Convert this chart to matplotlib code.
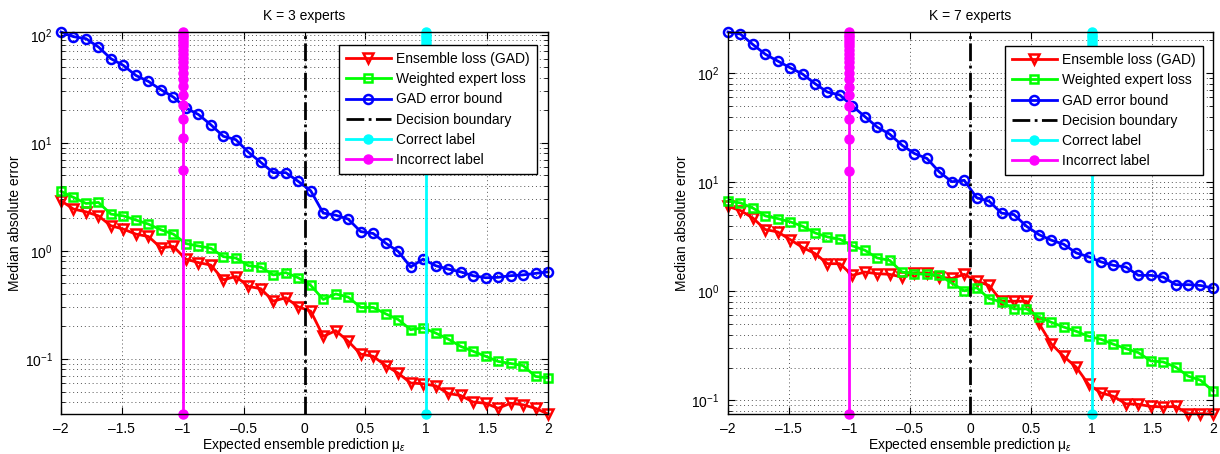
import numpy as np
import matplotlib
matplotlib.use('Agg')
import matplotlib.pyplot as plt
from matplotlib.ticker import LogLocator, NullFormatter, MultipleLocator

plt.rcParams['font.family'] = ['Liberation Sans', 'DejaVu Sans']
plt.rcParams['mathtext.fontset'] = 'custom'
plt.rcParams['mathtext.rm'] = 'Liberation Sans'
plt.rcParams['mathtext.it'] = 'Liberation Sans:italic'
plt.rcParams['font.size'] = 10

# eixo x: 40 pontos entre -2 e 2
mu = np.linspace(-2, 2, 40)

# K = 3 especialistas
ens_k3 = [2.91, 2.44, 2.30, 2.11, 1.71, 1.59, 1.43, 1.36, 1.07, 1.10,
          0.84, 0.78, 0.74, 0.54, 0.58, 0.47, 0.447, 0.343, 0.369, 0.304,
          0.277, 0.162, 0.183, 0.146, 0.111, 0.106, 0.087, 0.074, 0.060, 0.059,
          0.0565, 0.048, 0.046, 0.040, 0.039, 0.035, 0.039, 0.0377, 0.035, 0.031]
wexp_k3 = [3.56, 3.13, 2.75, 2.81, 2.19, 2.11, 1.93, 1.77, 1.57, 1.43,
           1.17, 1.11, 1.06, 0.885, 0.86, 0.73, 0.71, 0.60, 0.63, 0.565,
           0.48, 0.356, 0.40, 0.374, 0.30, 0.30, 0.262, 0.232, 0.187, 0.194,
           0.174, 0.153, 0.131, 0.118, 0.106, 0.095, 0.091, 0.087, 0.069, 0.067]
bound_k3 = [106, 96, 92, 77, 60, 52, 42, 37, 31, 26.5,
            21, 18.3, 14.7, 11.5, 10.7, 8.2, 6.6, 5.3, 5.3, 4.4,
            3.6, 2.24, 2.14, 1.97, 1.51, 1.45, 1.18, 0.99, 0.71, 0.84,
            0.73, 0.68, 0.64, 0.59, 0.565, 0.57, 0.59, 0.60, 0.62, 0.64]
marks_k3 = [0.031, 5.61, 11.19, 16.77, 22.35, 27.92, 33.50, 39.08, 44.66, 50.23,
            55.81, 61.39, 66.96, 72.54, 78.12, 83.70, 89.27, 94.85, 100.43, 106.0]

# K = 7 especialistas
ens_k7 = [6.0, 5.5, 4.7, 3.68, 3.50, 2.98, 2.52, 2.22, 1.79, 1.79,
          1.40, 1.50, 1.45, 1.43, 1.35, 1.47, 1.47, 1.35, 1.31, 1.43,
          1.24, 1.13, 0.81, 0.81, 0.81, 0.51, 0.33, 0.253, 0.202, 0.14,
          0.117, 0.109, 0.093, 0.092, 0.088, 0.087, 0.088, 0.0755, 0.0755, 0.075]
wexp_k7 = [6.7, 6.46, 5.8, 4.91, 4.64, 4.33, 3.95, 3.43, 3.15, 3.0,
           2.61, 2.38, 2.02, 1.92, 1.50, 1.45, 1.43, 1.40, 1.19, 1.01,
           1.08, 0.857, 0.80, 0.69, 0.69, 0.58, 0.52, 0.47, 0.43, 0.386,
           0.363, 0.327, 0.298, 0.274, 0.23, 0.225, 0.202, 0.167, 0.153, 0.122]
bound_k7 = [238, 228, 183, 149, 129, 112, 98, 80, 67, 63,
            50, 40, 32, 27.6, 21.8, 18.3, 16.5, 12.4, 10.1, 10.4,
            7.2, 6.7, 5.2, 5.05, 3.95, 3.31, 2.94, 2.70, 2.25, 2.07,
            1.86, 1.73, 1.67, 1.40, 1.40, 1.35, 1.15, 1.15, 1.13, 1.07]
marks_k7 = [0.075, 12.6, 25.1, 37.6, 50.2, 62.7, 75.2, 87.7, 100.2, 112.8,
            125.3, 137.8, 150.3, 162.8, 175.4, 187.9, 200.4, 212.9, 225.4, 238.0]

titles = ['K = 3 experts', 'K = 7 experts']
boundary_x = 0
correct_x = 1
incorrect_x = -1

fig = plt.figure(figsize=(12.2, 4.54), dpi=100)
ax1 = fig.add_axes([0.0500, 0.0881, 0.3992, 0.8414])
ax2 = fig.add_axes([0.5967, 0.0881, 0.3975, 0.8414])

paineis = [(ax1, ens_k3, wexp_k3, bound_k3, marks_k3, titles[0], (0.977, 0.966)),
           (ax2, ens_k7, wexp_k7, bound_k7, marks_k7, titles[1], (0.979, 0.963))]

for ax, ens, wexp, bound, marks, titulo, leg_pos in paineis:
    ymin, ymax = marks[0], marks[-1]
    ax.plot(mu, ens, color='#FF0000', marker='v', mfc='none', ms=7.5, mew=1.8,
            lw=2, label='Ensemble loss (GAD)', clip_on=False)
    ax.plot(mu, wexp, color='#00FF00', marker='s', mfc='none', ms=6, mew=1.8,
            lw=2, label='Weighted expert loss', clip_on=False)
    ax.plot(mu, bound, color='#0000FF', marker='o', mfc='none', ms=6.5, mew=1.8,
            lw=2, label='GAD error bound', clip_on=False)
    ax.plot([boundary_x, boundary_x], [ymin, ymax], color='k', ls='-.', lw=2,
            label='Decision boundary')
    ax.plot([correct_x] * len(marks), marks, color='#00FFFF', marker='o', ms=6.5,
            lw=2, label='Correct label', clip_on=False)
    ax.plot([incorrect_x] * len(marks), marks, color='#FF00FF', marker='o', ms=6.5,
            lw=2, label='Incorrect label', clip_on=False)

    ax.set_yscale('log')
    ax.set_xlim(-2, 2)
    ax.set_ylim(ymin, ymax)
    ax.xaxis.set_major_locator(MultipleLocator(0.5))
    ax.xaxis.set_major_formatter(matplotlib.ticker.FuncFormatter(
        lambda v, p: ('%g' % v).replace('-', '\u2013')))
    ax.yaxis.set_minor_locator(LogLocator(base=10, subs=np.arange(2, 10)))
    ax.yaxis.set_minor_formatter(NullFormatter())

    ax.grid(True, which='major', ls=(0, (1, 3)), lw=0.7, color='#555555')
    ax.grid(True, which='minor', axis='y', ls=(0, (1, 3)), lw=0.7, color='#555555')
    ax.set_axisbelow(True)
    ax.tick_params(which='both', direction='in', top=True, right=True, labelsize=10)
    ax.tick_params(which='major', length=5, pad=6)
    ax.tick_params(which='minor', length=3)
    for s in ax.spines.values():
        s.set_linewidth(1)

    ax.set_title(titulo, fontsize=10, pad=9)
    ax.set_xlabel('Expected ensemble prediction \u03bc$_{\u03b5}$', fontsize=10, labelpad=0)
    ax.set_ylabel('Median absolute error', fontsize=10, labelpad=2)

    leg = ax.legend(loc='upper right', bbox_to_anchor=leg_pos, borderaxespad=0,
                    fontsize=10, numpoints=1, fancybox=False, framealpha=1,
                    edgecolor='k', handlelength=3.2, handletextpad=0.4,
                    labelspacing=0.45, borderpad=0.5)
    leg.get_frame().set_linewidth(1)
    leg.set_zorder(5)

plt.savefig('out.png', dpi=100)
